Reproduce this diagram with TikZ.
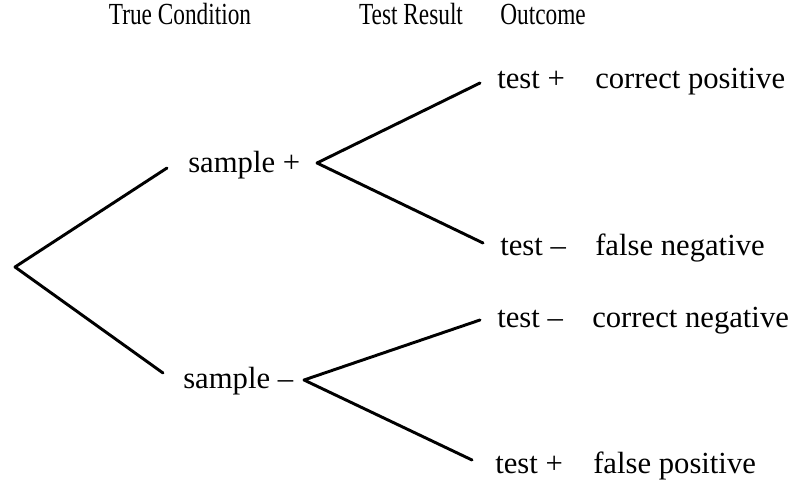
\documentclass[tikz,border=0pt]{standalone}
\usepackage{fontspec}
\usepackage{graphicx}
\setmainfont{Liberation Serif}
\usepackage{tikz}
\usetikzlibrary{positioning}

\tikzset{
  lbl/.style={inner sep=0pt,anchor=base west,font=\fontsize{23}{27}\selectfont},
  hdr/.style={inner sep=0pt,anchor=base,font=\fontsize{23}{27}\selectfont},
  branch/.style={line width=2.2pt,line cap=round,line join=round}
}

\begin{document}
\begin{tikzpicture}[x=0.75pt,y=-0.75pt]
  \useasboundingbox (0,0) rectangle (792,481);
  % column headings
  \node[hdr] (hcond) at (180,25) {\scalebox{0.76}[1]{True Condition}};
  \node[hdr] (hres) at (411,25) {\scalebox{0.76}[1]{Test Result}};
  \node[hdr] (hout) at (543,25) {\scalebox{0.76}[1]{Outcome}};
  % first split
  \coordinate (root) at (15,267);
  \coordinate (sp) at (167,168);  \coordinate (sm) at (163,373);
  \node[lbl] (splus) at (188,173) {sample +};
  \node[lbl] (sminus) at (183,388) {sample –};
  \draw[branch] (sp) -- (root) -- (sm);
  % second split, sample +
  \coordinate (ap) at (317,163);
  \coordinate (pp) at (480,83);  \coordinate (pm) at (483,243);
  \node[lbl] (tpp) at (497,89) {test +};
  \node[lbl] (tpm) at (500,255) {test –};
  \node[lbl] (opp) at (595,89) {correct positive};
  \node[lbl] (opm) at (595,255) {false negative};
  \draw[branch] (pp) -- (ap) -- (pm);
  % second split, sample -
  \coordinate (am) at (304,380);
  \coordinate (mm) at (480,320);  \coordinate (mp) at (472,460);
  \node[lbl] (tmm) at (497,327) {test –};
  \node[lbl] (tmp) at (495,473) {test +};
  \node[lbl] (omm) at (592,327) {correct negative};
  \node[lbl] (omp) at (593,473) {false positive};
  \draw[branch] (mm) -- (am) -- (mp);
\end{tikzpicture}
\end{document}
